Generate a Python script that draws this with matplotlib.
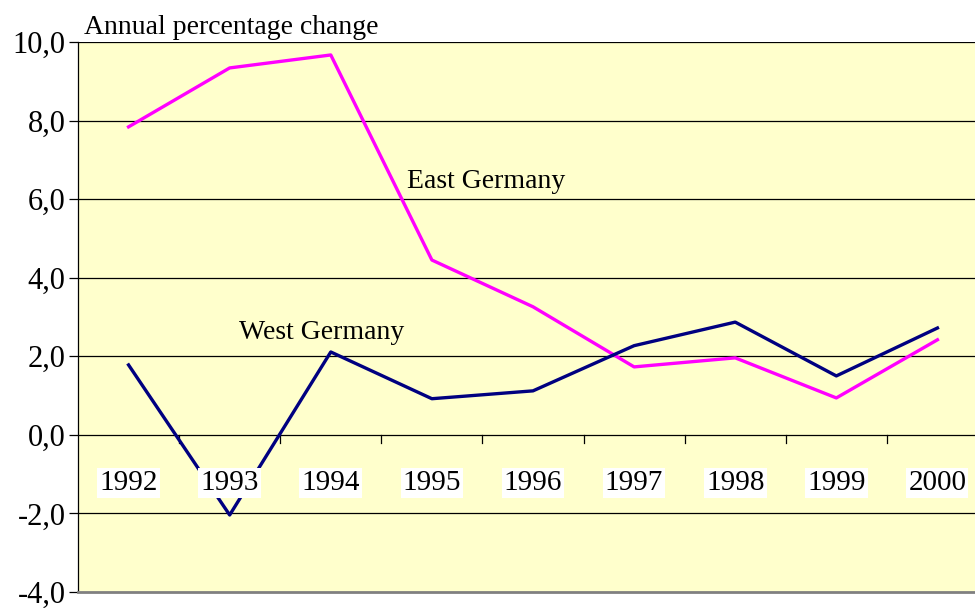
import matplotlib
matplotlib.use("Agg")
import matplotlib.pyplot as plt

plt.rcParams['font.family'] = ['Liberation Serif', 'DejaVu Serif']

# data
years = ['1992', '1993', '1994', '1995', '1996', '1997', '1998', '1999', '2000']
east = [7.84, 9.34, 9.67, 4.45, 3.26, 1.73, 1.96, 0.94, 2.42]
west = [1.78, -2.04, 2.11, 0.92, 1.12, 2.27, 2.87, 1.50, 2.72]
yticks = [-4, -2, 0, 2, 4, 6, 8, 10]

fig = plt.figure(figsize=(9.75, 6.08), dpi=100)
# axes extends a bit past the right edge, like the cropped original
ax = fig.add_axes([78 / 975, (608 - 592) / 608, 910 / 975, 550 / 608])
ax.set_facecolor('#FFFFCC')

x = list(range(len(years)))
ax.plot(x, east, color='#FF00FF', lw=2.4, zorder=3)
ax.plot(x, west, color='#000080', lw=2.4, zorder=3)

ax.set_xlim(-0.5, len(years) - 0.5)
ax.set_ylim(-4, 10)

# gridlines
for v in yticks[1:]:
    ax.axhline(v, color='black', lw=0.9, zorder=1)

# category tick marks under the zero line
for i in range(1, len(years)):
    ax.plot([i - 0.5, i - 0.5], [0, -0.2], color='black', lw=0.9, zorder=1)

# year labels with white boxes
for i, yr in enumerate(years):
    ax.text(i, -1.22, yr, ha='center', va='center', fontsize=21, zorder=4,
            bbox=dict(facecolor='white', edgecolor='none', pad=1.5))

ax.set_yticks(yticks)
ax.set_yticklabels([f'{v:.1f}'.replace('.', ',') for v in yticks], fontsize=22)
ax.set_xticks([])
ax.tick_params(axis='y', length=6.5, width=0.9, pad=2.5)

for s in ['top', 'right']:
    ax.spines[s].set_visible(False)
ax.spines['left'].set_color('black')
ax.spines['left'].set_linewidth(0.9)
ax.spines['bottom'].set_color('#808080')
ax.spines['bottom'].set_linewidth(2)

ax.text(2.75, 6.46, 'East Germany', fontsize=20, ha='left', va='center')
ax.text(1.09, 2.6, 'West Germany', fontsize=20, ha='left', va='center')
fig.text(84 / 975, 1 - 27 / 608, 'Annual percentage change', fontsize=20,
         ha='left', va='center')

fig.savefig('out.png', dpi=100)
